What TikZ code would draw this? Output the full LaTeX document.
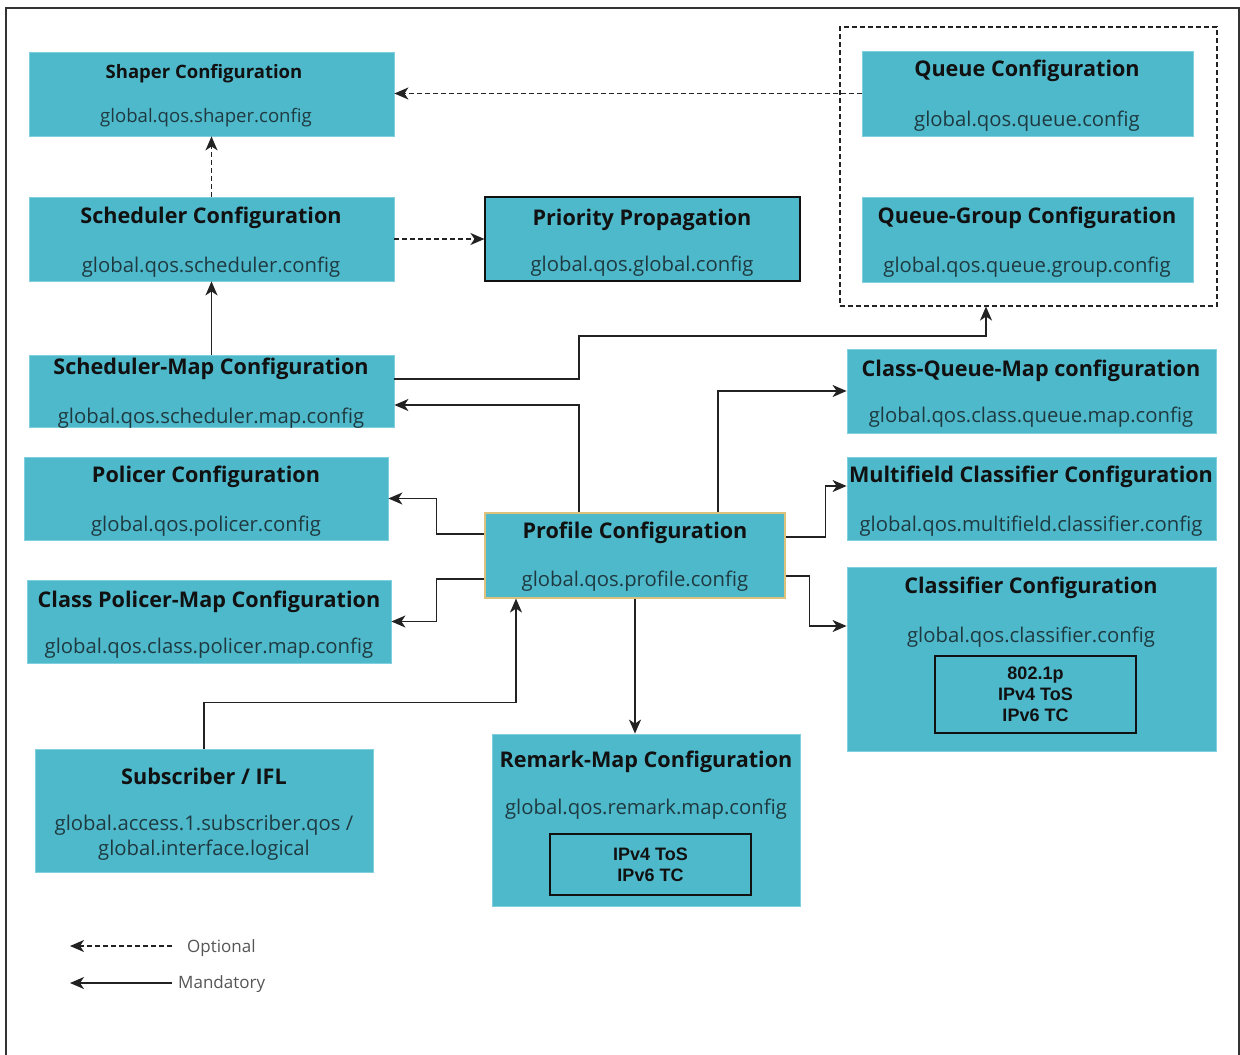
\documentclass[tikz,border=0pt]{standalone}
\usepackage{fontspec}
\setmainfont{Open Sans}
\newfontfamily\arialf{Liberation Sans}
\usetikzlibrary{arrows.meta}
\definecolor{boxfill}{HTML}{4FB9CC}
\definecolor{boxedge}{HTML}{7FD0DE}
\definecolor{titlecol}{HTML}{111111}
\definecolor{subcol}{HTML}{1E3A40}
\definecolor{linecol}{HTML}{222222}
\definecolor{profedge}{HTML}{DCC27A}
\definecolor{legcol}{HTML}{555555}
\definecolor{framecol}{HTML}{333333}
\begin{document}
\begin{tikzpicture}[x=1pt,y=-1pt,
  box/.style={draw=boxedge, line width=0.8pt, fill=boxfill, inner sep=0pt},
  ttl/.style={font=\bfseries\fontsize{21.6}{24}\selectfont, text=titlecol, inner sep=0pt, yshift=-2pt},
  subt/.style={font=\fontsize{20.3}{24}\selectfont, text=subcol, inner sep=0pt, yshift=-2pt},
  ttlsmall/.style={font=\bfseries\fontsize{18.5}{21}\selectfont, text=titlecol, inner sep=0pt, yshift=-2pt},
  subsmall/.style={font=\fontsize{18.6}{21}\selectfont, text=subcol, inner sep=0pt, yshift=-2pt},
  inner/.style={draw=titlecol, line width=1.1pt, inner sep=0pt, align=center, font=\arialf\bfseries\fontsize{18}{21}\selectfont, text=titlecol},
  arr/.style={draw=linecol, line width=1.4pt, -{Stealth[length=14pt,width=12pt,inset=4pt]}},
  darr/.style={arr, dash pattern=on 5pt off 3pt},
  legtxt/.style={font=\fontsize{17}{19}\selectfont, text=legcol, inner sep=0pt}]
\useasboundingbox (0,0) rectangle (1240,1055);
\draw[framecol, line width=1.5pt] (6,1055) -- (6,8) -- (1239,8) -- (1239,1055);

% dashed group
\node[draw=linecol, line width=1.1pt, dash pattern=on 5pt off 3pt, minimum width=377pt, minimum height=279pt, inner sep=0pt] (grp) at (1028.5,166.5) {};

% boxes
\node[box, minimum width=365pt, minimum height=84pt] (sh) at (211.5,94) {};
\node[ttlsmall] (sh-t) at (204,72) {Shaper Configuration};
\node[subsmall] (sh-s) at (206,116) {global.qos.shaper.config};

\node[box, minimum width=365pt, minimum height=84pt] (sc) at (211.5,239) {};
\node[ttl] (sc-t) at (211,216) {Scheduler Configuration};
\node[subt] (sc-s) at (211,265) {global.qos.scheduler.config};

\node[box, draw=titlecol, line width=1.1pt, minimum width=315pt, minimum height=84pt] (pp) at (642.5,239) {};
\node[ttl] (pp-t) at (642,218) {Priority Propagation};
\node[subt] (pp-s) at (642,264) {global.qos.global.config};

\node[box, minimum width=331pt, minimum height=85pt] (qu) at (1027.5,93.5) {};
\node[ttl] (qu-t) at (1027,69) {Queue Configuration};
\node[subt] (qu-s) at (1027,119) {global.qos.queue.config};

\node[box, minimum width=331pt, minimum height=85pt] (qg) at (1027.5,239.5) {};
\node[ttl] (qg-t) at (1027,216) {Queue-Group Configuration};
\node[subt] (qg-s) at (1027,265) {global.qos.queue.group.config};

\node[box, minimum width=365pt, minimum height=72pt] (sm) at (211.5,391) {};
\node[ttl] (sm-t) at (211,367) {Scheduler-Map Configuration};
\node[subt] (sm-s) at (211,416) {global.qos.scheduler.map.config};

\node[box, minimum width=364pt, minimum height=83pt] (po) at (206,498.5) {};
\node[ttl] (po-t) at (206,475) {Policer Configuration};
\node[subt] (po-s) at (206,524) {global.qos.policer.config};

\node[box, minimum width=364pt, minimum height=83pt] (cp) at (209,621.5) {};
\node[ttl] (cp-t) at (209,600) {Class Policer-Map Configuration};
\node[subt] (cp-s) at (209,646) {global.qos.class.policer.map.config};

\node[box, minimum width=338pt, minimum height=123pt] (su) at (204,810.5) {};
\node[ttl] (su-t) at (204,774) {Subscriber / IFL};
\node[subt, align=center, font=\fontsize{20.3}{25}\selectfont] (su-s) at (204,835.5) {global.access.1.subscriber.qos /\\global.interface.logical};

\node[box, draw=profedge, line width=1.1pt, minimum width=300pt, minimum height=85pt] (pr) at (635,555.5) {};
\node[ttl] (pr-t) at (635,531) {Profile Configuration};
\node[subt] (pr-s) at (635,579) {global.qos.profile.config};

\node[box, minimum width=369pt, minimum height=84pt] (cq) at (1031.5,391) {};
\node[ttl] (cq-t) at (1031,369) {Class-Queue-Map configuration};
\node[subt] (cq-s) at (1031,415) {global.qos.class.queue.map.config};

\node[box, minimum width=369pt, minimum height=83pt] (mf) at (1031.5,498.5) {};
\node[ttl] (mf-t) at (1031,475) {Multifield Classifier Configuration};
\node[subt] (mf-s) at (1031,524) {global.qos.multifield.classifier.config};

\node[box, minimum width=369pt, minimum height=184pt] (cl) at (1031.5,659) {};
\node[ttl] (cl-t) at (1031,586) {Classifier Configuration};
\node[subt] (cl-s) at (1031,635) {global.qos.classifier.config};
\node[inner, minimum width=201pt, minimum height=77pt] (cl-i) at (1035.5,694.5) {802.1p\\IPv4 ToS\\IPv6 TC};

\node[box, minimum width=308pt, minimum height=172pt] (rm) at (646,820) {};
\node[ttl] (rm-t) at (646,760) {Remark-Map Configuration};
\node[subt] (rm-s) at (646,807) {global.qos.remark.map.config};
\node[inner, minimum width=201pt, minimum height=61pt] (rm-i) at (650.5,864.5) {IPv4 ToS\\IPv6 TC};

% connectors
\draw[darr] (qu.west) -- (qu.west -| sh.east);
\draw[darr] (sc.north) -- (sh.south);
\draw[darr] (sc.east) -- (pp.west);
\draw[arr] (sm.north) -- (sc.south);
\draw[arr] ([yshift=12pt]sm.east) -| (579,336) -| ([xshift=-42.5pt]grp.south);
\draw[arr] ([xshift=-56pt]pr.north) |- ([yshift=-14pt]sm.east);
\draw[arr] ([xshift=83pt]pr.north) |- (cq.west);
\draw[arr] ([yshift=18.5pt]pr.east) -- ++(40,0) |- ([yshift=12.5pt]mf.west);
\draw[arr] ([yshift=-20.5pt]pr.east) -- ++(24,0) |- ([yshift=33pt]cl.west);
\draw[arr] ([yshift=21.5pt]pr.west) -- ++(-48,0) |- (po.east);
\draw[arr] ([yshift=-23.5pt]pr.west) -- ++(-48,0) |- (cp.east);
\draw[arr] (pr.south) -- (pr.south |- rm.north);
\draw[arr] (su.north) -- ++(0,-46) -| ([xshift=-119pt]pr.south);

% legend
\coordinate (l1a) at (172,946);
\coordinate (l1b) at (70,946);
\coordinate (l2a) at (172,983);
\coordinate (l2b) at (70,983);
\draw[darr] (l1a) -- (l1b);
\draw[arr] (l2a) -- (l2b);
\node[legtxt, anchor=west] (lg1) at (187,948) {Optional};
\node[legtxt, anchor=west] (lg2) at (178,984) {Mandatory};
\end{tikzpicture}
\end{document}
